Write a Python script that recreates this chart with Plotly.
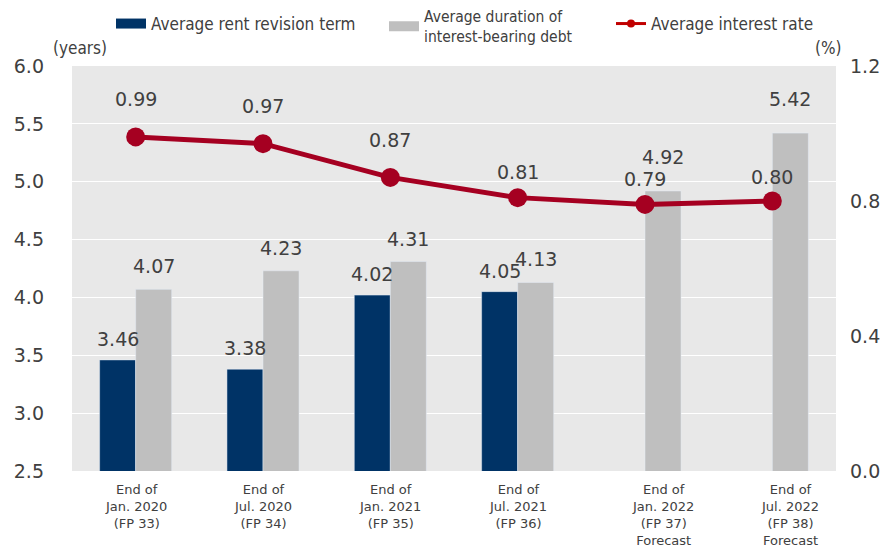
import plotly.graph_objects as go

categories = ["End of<br>Jan. 2020<br>(FP 33)", "End of<br>Jul. 2020<br>(FP 34)",
              "End of<br>Jan. 2021<br>(FP 35)", "End of<br>Jul. 2021<br>(FP 36)",
              "End of<br>Jan. 2022<br>(FP 37)<br>Forecast", "End of<br>Jul. 2022<br>(FP 38)<br>Forecast"]
cat_ids = ["FP33", "FP34", "FP35", "FP36", "FP37", "FP38"]
rent_revision = [3.46, 3.38, 4.02, 4.05, None, None]
debt_duration = [4.07, 4.23, 4.31, 4.13, 4.92, 5.42]
interest_rate = [0.99, 0.97, 0.87, 0.81, 0.79, 0.80]
series_names = ["Average rent revision term", "Average duration of<br>interest-bearing debt",
                "Average interest rate"]

NAVY = "#003366"
GRAY = "#BFBFBF"
RED = "#A50021"
TXT = "#404040"
NUMFONT = "DejaVu Sans, Verdana, sans-serif"
NARROW = "Liberation Sans Narrow, DejaVu Sans Condensed, Liberation Sans, sans-serif"

fig = go.Figure()
fig.add_trace(go.Bar(x=cat_ids, y=rent_revision, name=series_names[0],
                     marker_color=NAVY, showlegend=False))
fig.add_trace(go.Bar(x=cat_ids, y=debt_duration, name=series_names[1],
                     marker_color=GRAY, showlegend=False))
fig.add_trace(go.Scatter(x=cat_ids, y=interest_rate, name=series_names[2], yaxis="y2",
                         mode="lines+markers", line=dict(color=RED, width=5),
                         marker=dict(size=19, color=RED), showlegend=False))
# legend-only entries
fig.add_trace(go.Scatter(x=[None], y=[None], name=series_names[0], mode="lines",
                         line=dict(color=NAVY, width=14), legend="legend"))
fig.add_trace(go.Scatter(x=[None], y=[None], name=series_names[1], mode="lines",
                         line=dict(color=GRAY, width=14), legend="legend2"))
fig.add_trace(go.Scatter(x=[None], y=[None], name=series_names[2], mode="lines+markers",
                         line=dict(color="#C00000", width=3), marker=dict(size=8, color="#C00000"),
                         legend="legend3"))

ann = []
for i, v in enumerate(rent_revision):
    if v is not None:
        ann.append(dict(x=cat_ids[i], y=v, xref="x", yref="y", text=f"{v:.2f}", showarrow=False,
                        xshift=-18, yshift=21, font=dict(family=NUMFONT, size=19, color=TXT)))
for i, v in enumerate(debt_duration):
    ann.append(dict(x=cat_ids[i], y=v, xref="x", yref="y", text=f"{v:.2f}", showarrow=False,
                    xshift=18, yshift=23 if i < 4 else 34, font=dict(family=NUMFONT, size=19, color=TXT)))
line_shift = [38, 38, 37, 26, 25, 24]
for i, v in enumerate(interest_rate):
    ann.append(dict(x=cat_ids[i], y=v, xref="x", yref="y2", text=f"{v:.2f}", showarrow=False,
                    yshift=line_shift[i], font=dict(family=NUMFONT, size=19, color=TXT)))
for i, c in enumerate(categories):
    ann.append(dict(x=cat_ids[i], y=0, xref="x", yref="paper", text=c, showarrow=False,
                    yanchor="top", yshift=-9, xshift=0 if i < 4 else 18,
                    font=dict(family=NUMFONT, size=13, color=TXT)))
ann.append(dict(x=0, y=1, xref="paper", yref="paper", text="(years)", showarrow=False,
                xanchor="center", yanchor="bottom", xshift=8, yshift=6,
                font=dict(family=NARROW, size=17, color=TXT)))
ann.append(dict(x=1, y=1, xref="paper", yref="paper", text="(%)", showarrow=False,
                xanchor="center", yanchor="bottom", xshift=-8, yshift=6,
                font=dict(family=NARROW, size=17, color=TXT)))

def leg(xpx, size=17, ypx=24):
    return dict(orientation="h", x=(xpx - 72) / 764, y=1 + (66 - ypx) / 405, xanchor="left",
                yanchor="middle", font=dict(family=NARROW, size=size, color=TXT), itemwidth=30,
                bgcolor="rgba(0,0,0,0)", tracegroupgap=0)

# page body adds an 8px offset; figure sized so the plot area lands where the reference has it
fig.update_layout(
    width=880, height=542,
    margin=dict(l=64, r=52, t=58, b=79, autoexpand=False),
    paper_bgcolor="white", plot_bgcolor="#E8E8E8",
    barmode="group", bargap=0.434, bargroupgap=0,
    showlegend=True,
    legend=leg(111), legend2=leg(384, 15.5, 26.5), legend3=leg(611),
    xaxis=dict(type="category", range=[-0.5, 5.5], showticklabels=False, showgrid=False,
               zeroline=False, ticks="", automargin=False),
    yaxis=dict(range=[2.5, 6.0], dtick=0.5, tickformat=".1f", showgrid=True, gridcolor="white",
               gridwidth=1, zeroline=False, tickfont=dict(family=NUMFONT, size=19, color=TXT),
               ticks="", ticklabelstandoff=27, automargin=False),
    yaxis2=dict(range=[0, 1.2], dtick=0.4, tickformat=".1f", overlaying="y", side="right",
                showgrid=False, zeroline=False, tickfont=dict(family=NUMFONT, size=19, color=TXT),
                ticks="", ticklabelstandoff=13, automargin=False),
    annotations=ann,
)

fig.write_html("out.html")
